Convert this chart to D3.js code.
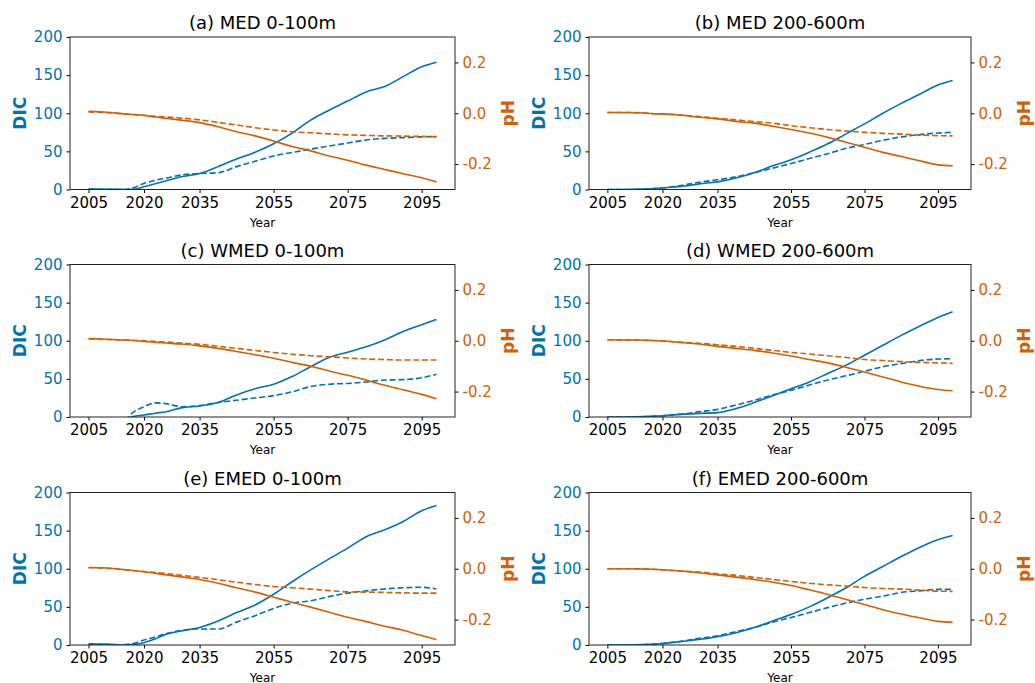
<!DOCTYPE html>
<html>
<head>
<meta charset="utf-8">
<script src="https://cdn.jsdelivr.net/npm/d3@7"></script>
<style>
  body { margin: 0; background: #fff; }
  text { font-family: "DejaVu Sans", sans-serif; }
</style>
</head>
<body>
<svg id="chart" width="1035" height="683"></svg>
<script>
// years
var years = [2005, 2010, 2015, 2017, 2020, 2023, 2026, 2030, 2035, 2040, 2045, 2050, 2055, 2060, 2065, 2070, 2075, 2080, 2085, 2090, 2095, 2099];
var xTicks = [2005, 2020, 2035, 2055, 2075, 2095];
var dicTicks = [0, 50, 100, 150, 200];
var phTicks = [-0.2, 0.0, 0.2];
var titles = ["(a) MED 0-100m", "(b) MED 200-600m", "(c) WMED 0-100m", "(d) WMED 200-600m", "(e) EMED 0-100m", "(f) EMED 200-600m"];

// (a) MED 0-100m
var medTopDic = [0.5, 0.3, 0, 0.2, 3.5, 7.5, 11.5, 16.6, 21, 30, 40, 49, 60, 74, 91, 104, 116, 128, 135, 148, 161, 167];
var medTopDicDash = [0.3, 0.2, 0, 2, 8, 12, 15, 19, 21, 22, 30, 37, 44, 48.5, 53, 57, 61, 65, 67, 68, 69, 69.5];
var medTopPh = [0.008, 0.004, -0.003, -0.005, -0.009, -0.015, -0.020, -0.027, -0.037, -0.053, -0.073, -0.089, -0.109, -0.131, -0.148, -0.168, -0.185, -0.204, -0.221, -0.238, -0.254, -0.270];
var medTopPhDash = [0.005, 0.002, -0.003, -0.005, -0.008, -0.012, -0.015, -0.019, -0.026, -0.036, -0.046, -0.057, -0.066, -0.073, -0.077, -0.081, -0.085, -0.087, -0.089, -0.090, -0.091, -0.093];
// (b) MED 200-600m
var medDeepDic = [0, 0, 0.5, 1, 2, 3.2, 4.6, 7.4, 10, 15, 22, 31, 39, 49, 60, 73, 86, 100, 113, 125, 137, 143];
var medDeepDicDash = [0, 0, 0.5, 1, 2, 3.8, 6, 9.6, 12.7, 16.6, 22, 28, 34, 40.6, 47, 54, 59, 64.6, 69, 72, 74, 75];
var medDeepPh = [0.003, 0.003, 0.001, -0.001, -0.003, -0.005, -0.009, -0.016, -0.022, -0.032, -0.039, -0.051, -0.064, -0.078, -0.095, -0.114, -0.134, -0.154, -0.170, -0.187, -0.203, -0.207];
var medDeepPhDash = [0.003, 0.003, 0.001, -0.001, -0.003, -0.005, -0.008, -0.013, -0.020, -0.026, -0.033, -0.039, -0.049, -0.057, -0.064, -0.070, -0.075, -0.079, -0.082, -0.086, -0.088, -0.089];
// (c) WMED 0-100m
var wmedTopDic = [-3, -3, -2, 0.5, 2.6, 5, 7, 12, 14.4, 19, 29, 37, 43, 53, 66, 78, 85, 92, 101, 112, 121, 128];
var wmedTopDicDash = [-3, -3, -2, 6, 13.5, 18.5, 17.5, 13.5, 15, 19, 22, 25, 28, 33, 40, 43, 44, 46, 48.5, 49, 51.5, 56];
var wmedTopPh = [0.009, 0.006, 0.003, 0.001, -0.003, -0.006, -0.009, -0.013, -0.020, -0.030, -0.042, -0.055, -0.069, -0.085, -0.100, -0.119, -0.136, -0.155, -0.175, -0.193, -0.211, -0.228];
var wmedTopPhDash = [0.007, 0.005, 0.003, 0.002, 0, -0.003, -0.005, -0.009, -0.014, -0.022, -0.030, -0.038, -0.046, -0.053, -0.059, -0.063, -0.068, -0.072, -0.074, -0.076, -0.076, -0.076];
// (d) WMED 200-600m
var wmedDeepDic = [0, 0, 0.5, 1, 1.7, 2.8, 3.8, 4.8, 5.7, 11, 19, 28, 37, 46, 57, 68, 81, 94, 107, 119, 130.5, 138];
var wmedDeepDicDash = [0, 0, 0.5, 1, 1.7, 3, 4.2, 7, 10, 15.7, 22, 29, 35, 42, 48.5, 54, 60, 66, 70, 74, 76, 76.4];
var wmedDeepPh = [0.004, 0.003, 0.002, 0.001, -0.001, -0.004, -0.008, -0.013, -0.022, -0.030, -0.038, -0.048, -0.060, -0.074, -0.087, -0.104, -0.123, -0.143, -0.162, -0.179, -0.192, -0.197];
var wmedDeepPhDash = [0.004, 0.003, 0.002, 0.001, -0.001, -0.004, -0.007, -0.010, -0.016, -0.022, -0.030, -0.038, -0.046, -0.052, -0.059, -0.066, -0.074, -0.078, -0.082, -0.085, -0.087, -0.089];
// (e) EMED 0-100m
var emedTopDic = [1.7, 1.3, 0, 0.5, 3, 8, 14, 18.4, 23, 31.5, 42.5, 52.5, 66.5, 83, 98.5, 113, 127, 142, 151, 162, 176, 183];
var emedTopDicDash = [0.5, 0.3, 0.5, 2, 6.5, 10.5, 15, 19, 21, 21, 30, 38.5, 48, 55, 58, 63.5, 68, 71, 73.5, 75, 75.7, 73.5];
var emedTopPh = [0.005, 0.003, -0.004, -0.007, -0.012, -0.018, -0.024, -0.032, -0.042, -0.057, -0.075, -0.092, -0.112, -0.132, -0.151, -0.171, -0.191, -0.208, -0.226, -0.242, -0.263, -0.279];
var emedTopPhDash = [0.004, 0.002, -0.004, -0.007, -0.011, -0.015, -0.019, -0.026, -0.034, -0.043, -0.053, -0.062, -0.070, -0.075, -0.080, -0.086, -0.091, -0.092, -0.093, -0.095, -0.096, -0.096];
// (f) EMED 200-600m
var emedDeepDic = [0, 0, 0.5, 1, 2, 3.4, 5, 7.4, 11, 16, 23, 31.5, 40, 50, 62, 75, 90, 103, 116, 128, 138, 143.5];
var emedDeepDicDash = [0, 0, 0.5, 1, 2, 3.6, 5.6, 8.8, 12, 17.5, 23, 30, 36, 42.5, 49, 55, 60, 64, 69, 71, 73, 73];
var emedDeepPh = [0, 0, -0.001, -0.002, -0.004, -0.007, -0.010, -0.016, -0.024, -0.033, -0.042, -0.053, -0.066, -0.083, -0.101, -0.121, -0.141, -0.161, -0.178, -0.193, -0.207, -0.211];
var emedDeepPhDash = [0, 0, -0.001, -0.002, -0.004, -0.007, -0.010, -0.013, -0.020, -0.026, -0.034, -0.042, -0.050, -0.057, -0.063, -0.068, -0.074, -0.078, -0.080, -0.084, -0.088, -0.089];

var panels = [
  { dic: medTopDic, dicDash: medTopDicDash, ph: medTopPh, phDash: medTopPhDash },
  { dic: medDeepDic, dicDash: medDeepDicDash, ph: medDeepPh, phDash: medDeepPhDash },
  { dic: wmedTopDic, dicDash: wmedTopDicDash, ph: wmedTopPh, phDash: wmedTopPhDash },
  { dic: wmedDeepDic, dicDash: wmedDeepDicDash, ph: wmedDeepPh, phDash: wmedDeepPhDash },
  { dic: emedTopDic, dicDash: emedTopDicDash, ph: emedTopPh, phDash: emedTopPhDash },
  { dic: emedDeepDic, dicDash: emedDeepDicDash, ph: emedDeepPh, phDash: emedDeepPhDash }
];

var blue = "#0072B2", orange = "#D55E00";
var colX = [70, 589], colW = [385, 382];
var rowY = [37, 264.5, 492.5];
var plotH = 152.5;

var svg = d3.select("#chart");

panels.forEach(function(p, i) {
  var col = i % 2, row = Math.floor(i / 2);
  var w = colW[col];
  var g = svg.append("g").attr("transform", "translate(" + colX[col] + "," + rowY[row] + ")");

  var x = d3.scaleLinear().domain([2000, 2104]).range([0, w]);
  var yDic = d3.scaleLinear().domain([0, 200]).range([plotH, 0]);
  var yPh = d3.scaleLinear().domain([-0.3, 0.3]).range([plotH, 0]);

  g.append("clipPath").attr("id", "clip" + i)
    .append("rect").attr("width", w).attr("height", plotH);

  var lines = g.append("g").attr("clip-path", "url(#clip" + i + ")");
  var dicLine = d3.line().x(function(d, k) { return x(years[k]); }).y(function(d) { return yDic(d); }).curve(d3.curveMonotoneX);
  var phLine = d3.line().x(function(d, k) { return x(years[k]); }).y(function(d) { return yPh(d); }).curve(d3.curveMonotoneX);

  lines.append("path").attr("d", dicLine(p.dic)).attr("fill", "none").attr("stroke", blue).attr("stroke-width", 1.6);
  lines.append("path").attr("d", dicLine(p.dicDash)).attr("fill", "none").attr("stroke", blue).attr("stroke-width", 1.6).attr("stroke-dasharray", "6,2.8");
  lines.append("path").attr("d", phLine(p.ph)).attr("fill", "none").attr("stroke", orange).attr("stroke-width", 1.6);
  lines.append("path").attr("d", phLine(p.phDash)).attr("fill", "none").attr("stroke", orange).attr("stroke-width", 1.6).attr("stroke-dasharray", "6,2.8");

  // axes
  var xAxis = g.append("g").attr("transform", "translate(0," + plotH + ")")
    .call(d3.axisBottom(x).tickValues(xTicks).tickFormat(d3.format("d")).tickSizeOuter(0).tickSize(3.5).tickPadding(4));
  xAxis.selectAll("text").attr("fill", "#000").style("font-size", "15px");

  var yAxisL = g.append("g").call(d3.axisLeft(yDic).tickValues(dicTicks).tickSizeOuter(0).tickSize(3.5).tickPadding(4));
  yAxisL.selectAll("text").attr("fill", blue).style("font-size", "15px");

  var yAxisR = g.append("g").attr("transform", "translate(" + w + ",0)")
    .call(d3.axisRight(yPh).tickValues(phTicks).tickFormat(function(d) { return d3.format(".1f")(d).replace("\u2212", "-"); }).tickSizeOuter(0).tickSize(3.5).tickPadding(4));
  yAxisR.selectAll("text").attr("fill", orange).style("font-size", "15px");

  [xAxis, yAxisL, yAxisR].forEach(function(a) {
    a.select(".domain").remove();
    a.selectAll("line").attr("stroke", "#000").attr("stroke-width", 1);
  });

  // frame
  g.append("rect").attr("width", w).attr("height", plotH).attr("fill", "none").attr("stroke", "#222").attr("stroke-width", 1);

  // titles and labels
  g.append("text").attr("x", w / 2).attr("y", -8).attr("text-anchor", "middle").style("font-size", "18px").attr("fill", "#000").text(titles[i]);
  g.append("text").attr("x", w / 2).attr("y", plotH + 37).attr("text-anchor", "middle").style("font-size", "12px").attr("fill", "#000").text("Year");
  g.append("text").attr("transform", "translate(" + (-50) + "," + (plotH / 2) + ") rotate(-90)")
    .attr("text-anchor", "middle").attr("dy", "0.35em").style("font-size", "17px").style("font-weight", "bold").attr("fill", blue).text("DIC");
  g.append("text").attr("transform", "translate(" + (w + 53) + "," + (plotH / 2) + ") rotate(-90)")
    .attr("text-anchor", "middle").attr("dy", "0.35em").style("font-size", "17px").style("font-weight", "bold").attr("fill", orange).text("pH");
});
</script>
</body>
</html>
